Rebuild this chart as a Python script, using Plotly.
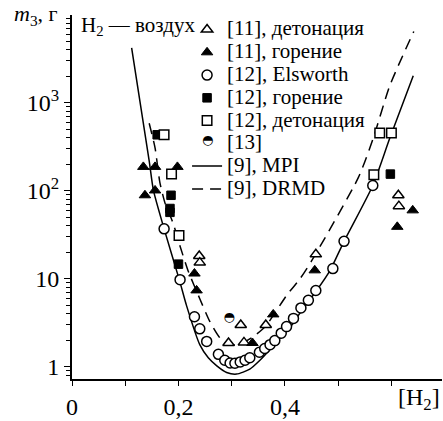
import plotly.graph_objects as go

# ---------------- data ----------------
det11_x = [0.239, 0.240, 0.294, 0.317, 0.323, 0.364, 0.458, 0.613, 0.614]
det11_y = [18.2, 15.3, 1.87, 3.0, 1.9, 3.0, 19, 89, 67]

gor11_x = [0.134, 0.156, 0.198, 0.137, 0.156, 0.230, 0.234, 0.339, 0.378, 0.456, 0.640, 0.611]
gor11_y = [187, 187, 187, 89, 101, 11.5, 7.4, 1.87, 3.95, 12.5, 60, 39]

els_x = [0.173, 0.203, 0.230, 0.240, 0.253, 0.275, 0.287, 0.297, 0.306, 0.316, 0.325,
         0.334, 0.352, 0.362, 0.372, 0.381, 0.393, 0.403, 0.416, 0.430, 0.444, 0.458,
         0.490, 0.511, 0.565]
els_y = [37, 9.8, 3.71, 2.71, 1.95, 1.39, 1.19, 1.11, 1.10, 1.14, 1.19,
         1.27, 1.47, 1.62, 1.79, 1.99, 2.42, 2.87, 3.56, 4.68, 5.71, 7.38,
         13.1, 26.7, 115]

gor12_x = [0.160, 0.186, 0.184, 0.184, 0.200, 0.598]
gor12_y = [433, 89, 63, 57, 14.7, 155]

det12_x = [0.173, 0.187, 0.201, 0.567, 0.578, 0.600]
det12_y = [433, 155, 31, 152, 453, 453]

ref13_x = [0.295]
ref13_y = [3.6]

mpi_x = [0.112, 0.145, 0.153, 0.173, 0.2015, 0.215, 0.240, 0.256, 0.272, 0.2905, 0.309,
         0.334, 0.353, 0.372, 0.391, 0.413, 0.434, 0.4595, 0.4845, 0.511, 0.565, 0.597, 0.641]
mpi_y = [4215, 219, 101, 37, 9.8, 5.0, 1.79, 1.27, 1.03, 0.866, 0.829,
         0.943, 1.19, 1.58, 2.13, 3.0, 4.61, 7.38, 12.4, 26.7, 115, 398, 2029]

drmd_x = [0.145, 0.156, 0.165, 0.175, 0.190, 0.203, 0.218, 0.240, 0.259, 0.278, 0.297,
          0.3155, 0.338, 0.364, 0.403, 0.428, 0.450, 0.538, 0.566, 0.597, 0.642]
drmd_y = [586, 308, 125, 71.6, 42.8, 23.5, 12.4, 5.96, 3.27, 2.13, 1.77,
          1.82, 2.15, 2.92, 6.49, 9.97, 16.0, 142, 398, 1570, 6457]

x_tickvals = [0, 0.1, 0.2, 0.3, 0.4, 0.5, 0.6]
x_ticktext = ["0", "", "0,2", "", "0,4", "", ""]
y_tickvals = [1, 10, 100, 1000]
y_ticktext = ["1", "10", "10<sup>2</sup>", "10<sup>3</sup>"]
y_minor = [0.8, 0.9] + [k * 10 ** e for e in range(0, 4) for k in range(2, 10)]

legend_names = ["[11], детонация", "[11], горение", "[12], Elsworth", "[12], горение",
                "[12], детонация", "[13]", "[9], MPI", "[9], DRMD"]

SERIF = "Liberation Serif, Times New Roman, serif"
LFS = 21


def lname(s):
    return '<span style="font-size:%dpx">%s</span>' % (LFS, s)


fig = go.Figure()

fig.add_trace(go.Scatter(x=mpi_x, y=mpi_y, mode="lines", line=dict(color="black", width=1.5, shape="spline", smoothing=0.6),
                         name=lname(legend_names[6]), legendrank=7))
fig.add_trace(go.Scatter(x=drmd_x, y=drmd_y, mode="lines",
                         line=dict(color="black", width=1.5, dash="11px,7px", shape="spline", smoothing=0.6),
                         name=lname(legend_names[7]), legendrank=8))

mk_open = dict(color="white", line=dict(color="black", width=1.5))
mk_fill = dict(color="black", line=dict(color="black", width=1))

fig.add_trace(go.Scatter(x=det11_x, y=det11_y, mode="markers", name=lname(legend_names[0]), legendrank=1,
                         marker=dict(symbol="triangle-up", size=10, **mk_open)))
fig.add_trace(go.Scatter(x=gor11_x, y=gor11_y, mode="markers", name=lname(legend_names[1]), legendrank=2,
                         marker=dict(symbol="triangle-up", size=10, **mk_fill)))
fig.add_trace(go.Scatter(x=els_x, y=els_y, mode="markers", name=lname(legend_names[2]), legendrank=3,
                         marker=dict(symbol="circle", size=10, **mk_open)))
fig.add_trace(go.Scatter(x=gor12_x, y=gor12_y, mode="markers", name=lname(legend_names[3]), legendrank=4,
                         marker=dict(symbol="square", size=8.5, **mk_fill)))
fig.add_trace(go.Scatter(x=det12_x, y=det12_y, mode="markers", name=lname(legend_names[4]), legendrank=5,
                         marker=dict(symbol="square", size=9.5, **mk_open)))
# [13] half-filled circle drawn as a glyph
fig.add_trace(go.Scatter(x=ref13_x, y=ref13_y, mode="text", text=["◓"], showlegend=False,
                         textfont=dict(family="DejaVu Sans", size=13, color="black"),
                         textposition="middle center"))
fig.add_trace(go.Scatter(x=[None], y=[None], mode="markers", name=lname(legend_names[5]), legendrank=6,
                         marker=dict(symbol="circle", size=10, color="rgba(0,0,0,0)", line=dict(width=0))))

fig.update_layout(
    width=443, height=421,
    margin=dict(l=72, r=1, t=15, b=36),
    paper_bgcolor="white", plot_bgcolor="white",
    font=dict(family=SERIF, size=24, color="black"),
    showlegend=True,
    legend=dict(x=0.311, y=1.005, xanchor="left", yanchor="top", bgcolor="rgba(0,0,0,0)",
                font=dict(family=SERIF, size=15.2, color="black"), tracegroupgap=0,
                itemwidth=30, borderwidth=0),
    xaxis=dict(range=[0, 0.695], showgrid=False, zeroline=False, showline=True, linecolor="black",
               linewidth=2, ticks="outside", ticklen=5, tickwidth=1.2, tickcolor="black",
               tickmode="array", tickvals=x_tickvals, ticktext=x_ticktext,
               tickfont=dict(family=SERIF, size=24)),
    yaxis=dict(type="log", range=[-0.137, 3.997], showgrid=False, zeroline=False, showline=True,
               linecolor="black", linewidth=2, ticks="outside", ticklen=6, tickwidth=1.2, tickcolor="black",
               tickmode="array", tickvals=y_tickvals, ticktext=y_ticktext,
               tickfont=dict(family=SERIF, size=24),
               minor=dict(tickmode="array", tickvals=y_minor, ticks="outside", ticklen=4,
                          tickwidth=1, tickcolor="black", showgrid=False)),
)

fig.add_annotation(xref="paper", yref="paper", x=-0.162, y=1.0, xanchor="left", yanchor="middle",
                   text="<i>m</i><sub>3</sub>, г", showarrow=False, font=dict(family=SERIF, size=22))
fig.add_annotation(xref="paper", yref="paper", x=0.02, y=0.97, xanchor="left", yanchor="middle",
                   text="H<sub>2</sub> — воздух", showarrow=False, font=dict(family=SERIF, size=21))
fig.add_annotation(xref="paper", yref="paper", x=1.0, y=-0.054, xanchor="right", yanchor="middle",
                   text="[H<sub>2</sub>]", showarrow=False, font=dict(family=SERIF, size=24))
# legend key for [13]
fig.add_annotation(xref="paper", yref="paper", x=0.365, y=0.659, xanchor="center", yanchor="middle",
                   text="◓", showarrow=False, font=dict(family="DejaVu Sans", size=13))

fig.write_html("out.html")
